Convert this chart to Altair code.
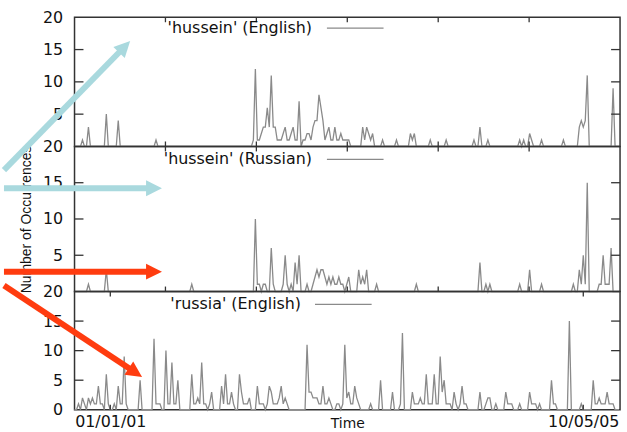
import altair as alt
import pandas as pd

# ---------------- data (weekly bins) ----------------
N_WEEKS = 275
weeks = list(range(N_WEEKS))

series_names = ["'hussein' (English)", "'hussein' (Russian)", "'russia' (English)"]

# week index -> number of occurrences (weeks not listed are 0)
hussein_english = {
    4: 1, 7: 3, 16: 5, 22: 4, 41: 1, 90: 1, 91: 12, 92: 1, 93: 1, 94: 2, 95: 3,
    96: 3, 97: 6, 98: 3, 99: 11, 100: 3, 101: 3, 102: 1, 103: 1, 104: 1, 105: 2,
    106: 3, 107: 1, 108: 1, 109: 2, 110: 3, 111: 1, 112: 1, 113: 7, 115: 1,
    116: 1, 117: 2, 118: 2, 119: 1, 120: 3, 121: 4, 122: 4, 123: 8, 124: 6,
    125: 4, 126: 1, 127: 2, 128: 3, 129: 1, 130: 1, 131: 3, 132: 1, 133: 1,
    134: 2, 135: 1, 136: 1, 137: 1, 138: 1, 145: 3, 146: 1, 147: 3, 148: 2,
    149: 1, 150: 2, 155: 1, 162: 1, 169: 2, 170: 1, 171: 2, 179: 1, 187: 1,
    201: 1, 204: 3, 208: 1, 224: 1, 226: 1, 229: 2, 230: 1, 235: 1, 246: 1,
    254: 3, 255: 4, 256: 3, 257: 4, 258: 11, 271: 9,
}
hussein_russian = {
    7: 1, 16: 3, 59: 1, 91: 10, 92: 1, 93: 1, 95: 1, 96: 1, 99: 6, 100: 1,
    105: 1, 106: 5, 107: 1, 109: 1, 111: 4, 112: 1, 113: 5, 117: 1, 120: 1,
    121: 2, 122: 3, 123: 2, 124: 3, 125: 3, 126: 2, 127: 1, 128: 2, 129: 1,
    130: 2, 131: 1, 132: 1, 133: 2, 134: 1, 135: 1, 137: 1, 138: 2, 143: 3,
    144: 1, 145: 2, 146: 1, 147: 3, 152: 1, 172: 1, 204: 4, 207: 1, 209: 1,
    224: 1, 229: 3, 235: 1, 251: 1, 254: 3, 255: 1, 256: 5, 257: 1, 258: 15,
    264: 1, 265: 1, 266: 5, 267: 1, 268: 1, 269: 1, 270: 6,
}
russia_english = {
    2: 1, 4: 2, 5: 1, 7: 2, 8: 1, 9: 2, 10: 1, 11: 1, 12: 4, 13: 1, 14: 1,
    16: 6, 17: 1, 20: 1, 22: 4, 23: 1, 24: 1, 25: 9, 26: 1, 33: 5, 40: 12,
    41: 1, 42: 1, 43: 1, 46: 10, 47: 1, 48: 1, 49: 8, 50: 1, 51: 1, 52: 5,
    59: 6, 60: 1, 61: 1, 62: 2, 63: 1, 64: 8, 65: 1, 66: 1, 68: 1, 69: 3,
    74: 4, 75: 1, 76: 6, 77: 1, 78: 1, 79: 3, 80: 1, 83: 6, 84: 3, 85: 1,
    86: 1, 87: 1, 88: 2, 92: 4, 93: 1, 94: 1, 95: 1, 97: 1, 98: 4, 99: 3,
    100: 1, 101: 1, 102: 1, 103: 2, 104: 4, 105: 1, 106: 2, 107: 1, 117: 11,
    118: 3, 119: 3, 120: 2, 121: 2, 122: 2, 123: 1, 124: 1, 125: 4, 126: 1,
    127: 1, 128: 2, 129: 1, 132: 1, 133: 1, 135: 1, 136: 11, 137: 2, 138: 3,
    139: 1, 140: 1, 141: 4, 142: 2, 143: 1, 149: 1, 154: 5, 160: 3, 164: 1,
    165: 13, 170: 3, 171: 1, 172: 1, 173: 1, 174: 2, 175: 1, 176: 1, 177: 6,
    178: 1, 179: 1, 180: 1, 181: 6, 182: 1, 183: 1, 184: 9, 185: 3, 186: 5,
    187: 1, 188: 1, 189: 1, 191: 3, 192: 1, 194: 1, 195: 4, 196: 1, 197: 1,
    204: 3, 207: 1, 208: 2, 209: 2, 212: 1, 217: 3, 218: 1, 219: 1, 220: 1,
    224: 1, 229: 3, 230: 1, 231: 1, 232: 1, 234: 1, 240: 5, 241: 1, 242: 1,
    249: 15, 255: 1, 261: 5, 262: 1, 263: 1, 264: 2, 265: 1, 266: 1, 267: 1,
    268: 3, 269: 1, 270: 1, 271: 1,
}
all_series = [hussein_english, hussein_russian, russia_english]

y_label_values = [[5, 10, 15, 20], [5, 10, 15, 20], [0, 5, 10, 15, 20]]
y_tick_values = [5, 10, 15]
grid_ticks = [45.75, 91.5, 137.25, 183, 228.75]
date_ticks = [18, 256]
date_labels = ["01/01/01", "10/05/05"]

# ---------------- styling / layout ----------------
W = 549
HEIGHTS = [130, 146, 119]
LEGEND = [(239, 11, 254, 311), (239, 13, 254, 311), (228, 13, 242, 299)]
FONT = "DejaVu Sans"
INK = "#111111"
FRAME = "#333333"
LINE = "#8a8a8a"
BLUE = "#a9d9de"
RED = "#ff3c0f"

# annotation arrows (pixel positions relative to bottom panel)
arrow_x0 = [-71, -71, -71, -71]
arrow_y0 = [-122.1, -104, -20, -6]
arrow_x1 = [50.4, 80, 80, 61.3]
arrow_y1 = [-246.3, -104, -20, 81.6]
arrow_angle = [314.35, 0, 0, 33.5]
arrow_color = [BLUE, BLUE, RED, RED]

x_scale = alt.Scale(domain=[0, 274.5], nice=False, zero=False)
y_scale = alt.Scale(domain=[0, 20], nice=False, zero=True)

label_expr = "".join(
    f"datum.value == {t} ? '{l}' : " for t, l in zip(date_ticks, date_labels)
) + "''"


def one_row():
    return alt.Chart(pd.DataFrame({"k": [0]}))


def panel(i, show_x, ytitle):
    h = HEIGHTS[i]
    counts = all_series[i]
    df = pd.DataFrame({"week": weeks, "count": [counts.get(w, 0) for w in weeks]})

    if show_x:
        x_axis = alt.Axis(
            values=date_ticks, labelExpr=label_expr, ticks=False, domain=False,
            grid=False, labelPadding=4, labelFlush=False, labelFont=FONT,
            labelFontSize=16, labelColor=INK, title="Time", titleFont=FONT,
            titleFontSize=14, titleFontWeight="normal", titleColor=INK,
            titleY=21, titleBaseline="bottom",
        )
    else:
        x_axis = None

    ykw = dict(values=y_label_values[i], ticks=False, domain=False, grid=False,
               labelPadding=12, labelFont=FONT, labelFontSize=16,
               labelColor=INK, labelFlush=False)
    if ytitle:
        y_axis = alt.Axis(title=ytitle, titleFont="Liberation Sans",
                          titleFontSize=14, titleFontWeight="normal",
                          titleColor=INK, titleAngle=270, titleX=-48,
                          titleY=h / 2, titleAlign="center",
                          titleBaseline="middle", **ykw)
    else:
        y_axis = alt.Axis(title=None, **ykw)

    line = alt.Chart(df).mark_line(color=LINE, strokeWidth=1.3).encode(
        x=alt.X("week:Q", scale=x_scale, axis=x_axis),
        y=alt.Y("count:Q", scale=y_scale, axis=y_axis),
    )

    ydf = pd.DataFrame({"v": y_tick_values})
    left_ticks = alt.Chart(ydf).mark_rule(color=FRAME, strokeWidth=1.3).encode(
        y=alt.Y("v:Q", scale=y_scale, axis=None), x=alt.value(0), x2=alt.value(9))
    right_ticks = alt.Chart(ydf).mark_rule(color=FRAME, strokeWidth=1.3).encode(
        y=alt.Y("v:Q", scale=y_scale, axis=None), x=alt.value(W - 9), x2=alt.value(W))

    xt = date_ticks if show_x else grid_ticks
    xdf = pd.DataFrame({"v": xt})
    top_ticks = alt.Chart(xdf).mark_rule(color=FRAME, strokeWidth=1.3).encode(
        x=alt.X("v:Q", scale=x_scale, axis=None), y=alt.value(0), y2=alt.value(5))
    bottom_ticks = alt.Chart(xdf).mark_rule(color=FRAME, strokeWidth=1.3).encode(
        x=alt.X("v:Q", scale=x_scale, axis=None), y=alt.value(h - 5), y2=alt.value(h))

    tx, ty, lx0, lx1 = LEGEND[i]
    key_text = one_row().mark_text(
        text=series_names[i], align="right", baseline="middle", font=FONT,
        fontSize=16, color=INK,
    ).encode(x=alt.value(tx), y=alt.value(ty))
    key_line = one_row().mark_rule(color=LINE, strokeWidth=1.3).encode(
        x=alt.value(lx0), x2=alt.value(lx1), y=alt.value(ty))

    layers = [line, left_ticks, right_ticks, top_ticks, bottom_ticks, key_text, key_line]

    if show_x:
        for k in range(len(arrow_x0)):
            layers.append(one_row().mark_rule(color=arrow_color[k], strokeWidth=6).encode(
                x=alt.value(arrow_x0[k]), y=alt.value(arrow_y0[k]),
                x2=alt.value(arrow_x1[k]), y2=alt.value(arrow_y1[k])))
            layers.append(one_row().mark_point(
                shape="M-1,-1L1,0L-1,1Z", filled=True, size=256, opacity=1,
                color=arrow_color[k], strokeWidth=0, angle=arrow_angle[k],
            ).encode(x=alt.value(arrow_x1[k]), y=alt.value(arrow_y1[k])))

    return (
        alt.layer(*layers)
        .resolve_axis(x="independent", y="independent")
        .properties(width=W, height=h)
    )


chart = alt.VConcatChart(
    vconcat=[panel(0, False, None), panel(1, False, "Number of Occurrences"), panel(2, True, None)],
    spacing=0,
    bounds="flush",
    padding={"left": 0, "top": 7, "right": 4, "bottom": 0},
    background="white",
).configure_view(stroke=FRAME, strokeWidth=1.5)

chart.save("out.html", embed_options={"renderer": "svg", "actions": False})
